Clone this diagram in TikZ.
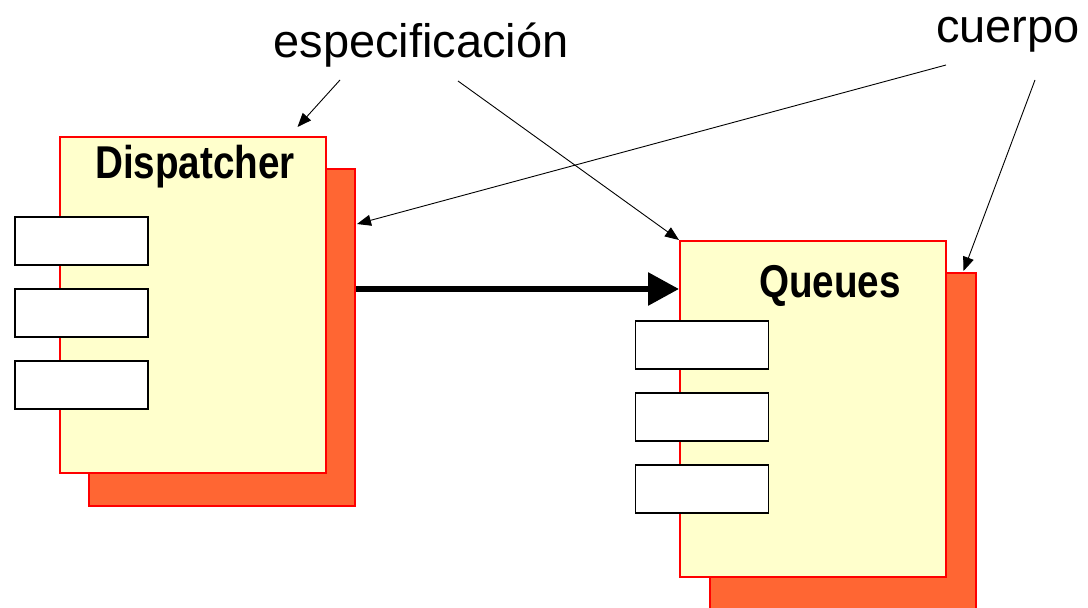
\documentclass[tikz,border=0pt]{standalone}
\usepackage{fontspec}
\setmainfont{Liberation Sans}
\newfontfamily\narrowfont[FakeStretch=0.84]{Liberation Sans}
\usetikzlibrary{arrows.meta}
\definecolor{paleyellow}{HTML}{FFFFCC}
\definecolor{backorange}{HTML}{FF6633}
\begin{document}
\begin{tikzpicture}[x=1pt,y=-1pt,
  backbox/.style={draw=red,line width=2pt,fill=backorange,minimum width=266pt,minimum height=337pt,inner sep=0pt},
  frontbox/.style={draw=red,line width=2pt,fill=paleyellow,minimum width=266pt,minimum height=336pt,inner sep=0pt},
  portbox/.style={draw=black,line width=1.8pt,fill=white,minimum width=133pt,minimum height=48pt,inner sep=0pt},
  title/.style={font=\narrowfont\bfseries\fontsize{46}{50}\selectfont,anchor=base,inner sep=0pt},
  label/.style={font=\fontsize{47}{52}\selectfont,anchor=base,inner sep=0pt},
  thin/.style={line width=0.9pt,-{Triangle[length=14pt,width=11pt]}},
  thick/.style={line width=6pt,-{Triangle[length=31pt,width=32pt]}}]
\clip (0,0) rectangle (1088,608);
\fill[white] (0,0) rectangle (1088,608);
% Dispatcher
\node[backbox] (dback) at (222,337.5) {};
\node[frontbox] (dfront) at (192.5,305) {};
\node[title] (dtitle) at (195,178) {Dispatcher};
\node[portbox] (d1) at (81.5,241) {};
\node[portbox] (d2) at (81.5,313) {};
\node[portbox] (d3) at (81.5,385) {};
% Queues
\node[backbox] (qback) at (842.5,441.5) {};
\node[frontbox] (qfront) at (813,409) {};
\node[title] (qtitle) at (830,297) {Queues};
\node[portbox] (q1) at (702,345) {};
\node[portbox] (q2) at (702,417) {};
\node[portbox] (q3) at (702,489) {};
% labels
\node[label] (espec) at (421,57) {especificación};
\node[label] (cuerpo) at (1008,42) {cuerpo};
\coordinate (e1) at (340,80);
\coordinate (e2) at (458,81);
\coordinate (c1) at (946,65);
\coordinate (c2) at (1035,80);
% connectors
\draw[thin] (e1) -- ([shift={(-29,-9)}]dfront.north east);
\draw[thin] (e2) -- (qfront.north west);
\draw[thin] (c1) -- ([shift={(1,56)}]dback.north east);
\draw[thin] (c2) -- ([shift={(-13,-1)}]qback.north east);
\draw[thick] ([shift={(0,121)}]dback.north east) -- ([shift={(0,49)}]qfront.north west);
\end{tikzpicture}
\end{document}
